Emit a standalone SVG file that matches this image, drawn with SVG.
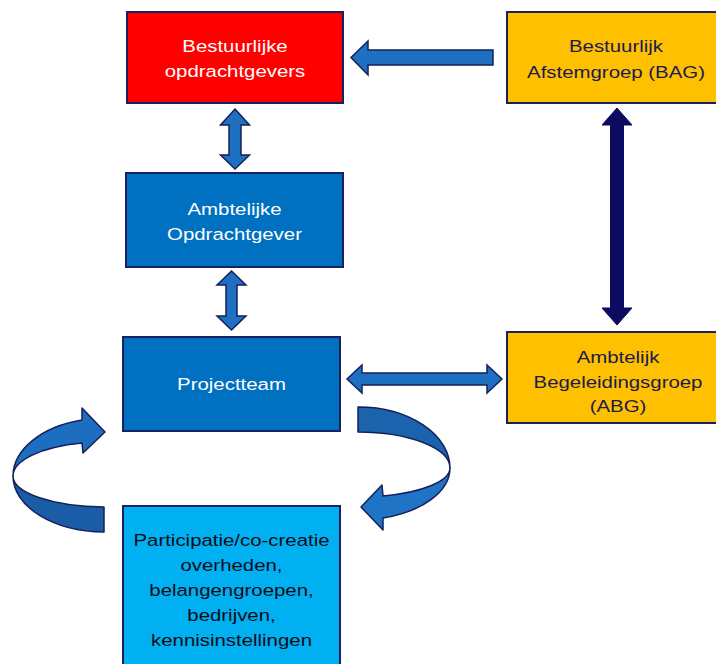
<svg xmlns="http://www.w3.org/2000/svg" width="716" height="664" viewBox="0 0 716 664">
<style>
.box{stroke:#1A2060;stroke-width:2}
.t{font-family:"Liberation Sans",Arial,sans-serif;font-size:17px;text-anchor:middle}
.w{fill:#FFFFFF}
.d{fill:#1B1B4B}
.k{fill:#0D0D1A}
.arr{fill:#1F70C1;stroke:#14205A;stroke-width:1.5;stroke-linejoin:miter}
.navy{fill:#0B0B62;stroke:#0B0B62;stroke-width:1}
.cu{stroke:#14205A;stroke-width:1.5;stroke-linejoin:round}
</style>
<rect width="716" height="664" fill="#FFFFFF"/>

<g id="connectors">
  <!-- BAG -> Bestuurlijke opdrachtgevers -->
  <path class="arr" d="M493 50 L368 50 L368 41 L351 57.5 L368 75 L368 65 L493 65 Z"/>
  <!-- Bestuurlijke <-> Ambtelijke -->
  <path class="arr" d="M235 109 L249.5 125 L241 125 L241 155 L249.5 155 L235 169 L220.5 155 L229 155 L229 125 L220.5 125 Z"/>
  <!-- Ambtelijke <-> Projectteam -->
  <path class="arr" d="M231.5 271 L246 285 L237 285 L237 316 L246 316 L231.5 330 L217 316 L226 316 L226 285 L217 285 Z"/>
  <!-- Projectteam <-> ABG -->
  <path class="arr" d="M347 379 L362 365 L362 373 L487 373 L487 365 L502 379 L487 393 L487 385 L362 385 L362 393 Z"/>
  <!-- BAG <-> ABG -->
  <path class="navy" d="M617 108 L632 125 L623.5 125 L623.5 308 L632 308 L617 325 L602 308 L610.5 308 L610.5 125 L602 125 Z"/>
  <!-- curved arrow right side (Projectteam -> Participatie) -->
  <path class="cu" fill="#1C63AE" d="M358 407 A92 61 0 0 1 450 468 A92 36 0 0 0 358 432 Z"/>
  <path class="cu" fill="#1F74C6" d="M450 468 A92 52 0 0 1 383 518 L383 530 L361 507 L382 485 L383 496 A92 29 0 0 0 450 468 Z"/>
  <!-- curved arrow left side (Participatie -> Projectteam) -->
  <path class="cu" fill="#1A5CA6" d="M13 476 A92 31 0 0 0 104 507 L104 532 A92 56 0 0 1 13 476 Z"/>
  <path class="cu" fill="#1D6EC0" d="M82 420 L82 408 L105 432 L83 453 L82 443 A92 34 0 0 0 13 476 A92 58 0 0 1 82 420 Z"/>
</g>

<g id="bestuurlijke-opdrachtgevers">
  <rect class="box" x="127" y="12" width="216" height="91" fill="#FF0000"/>
  <text class="t w" transform="translate(235 52) scale(1.2 1)">Bestuurlijke</text>
  <text class="t w" transform="translate(235 77) scale(1.2 1)">opdrachtgevers</text>
</g>

<g id="bag">
  <rect class="box" x="507" y="12" width="220" height="91" fill="#FFC000"/>
  <text class="t d" transform="translate(616 52) scale(1.2 1)">Bestuurlijk</text>
  <text class="t d" transform="translate(616 77.5) scale(1.2 1)">Afstemgroep (BAG)</text>
</g>

<g id="ambtelijke-opdrachtgever">
  <rect class="box" x="126" y="173" width="217" height="94" fill="#0070C0"/>
  <text class="t w" transform="translate(234.5 215) scale(1.2 1)">Ambtelijke</text>
  <text class="t w" transform="translate(234.5 240) scale(1.2 1)">Opdrachtgever</text>
</g>

<g id="projectteam">
  <rect class="box" x="123" y="337" width="217" height="94" fill="#0070C0"/>
  <text class="t w" transform="translate(231.5 390) scale(1.2 1)">Projectteam</text>
</g>

<g id="abg">
  <rect class="box" x="507" y="332" width="220" height="91" fill="#FFC000"/>
  <text class="t d" transform="translate(618 363) scale(1.2 1)">Ambtelijk</text>
  <text class="t d" transform="translate(618 388) scale(1.2 1)">Begeleidingsgroep</text>
  <text class="t d" transform="translate(618 412) scale(1.2 1)">(ABG)</text>
</g>

<g id="participatie">
  <rect class="box" x="123" y="506" width="217" height="170" fill="#00B0F0"/>
  <text class="t k" transform="translate(231.5 546) scale(1.2 1)">Participatie/co-creatie</text>
  <text class="t k" transform="translate(231.5 571) scale(1.2 1)">overheden,</text>
  <text class="t k" transform="translate(231.5 596) scale(1.2 1)">belangengroepen,</text>
  <text class="t k" transform="translate(231.5 621) scale(1.2 1)">bedrijven,</text>
  <text class="t k" transform="translate(231.5 646) scale(1.2 1)">kennisinstellingen</text>
</g>
</svg>
